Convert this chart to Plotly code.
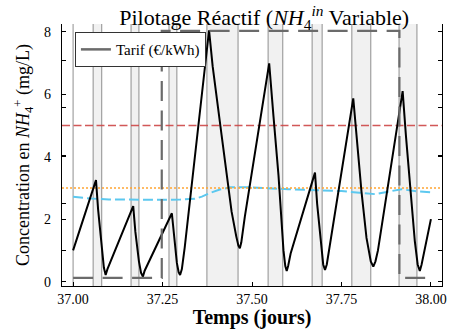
import plotly.graph_objects as go

# ---------------- data ----------------
# NH4+ concentration (black curve)
conc_t = [37.000, 37.064, 37.070, 37.080, 37.086, 37.091, 37.096,
          37.168, 37.174, 37.184, 37.190, 37.195, 37.200,
          37.276, 37.282, 37.290, 37.295, 37.299, 37.304, 37.312,
          37.380, 37.390, 37.415, 37.443, 37.456, 37.462, 37.466, 37.470, 37.480,
          37.548, 37.560, 37.574, 37.588, 37.593, 37.597, 37.601, 37.608,
          37.676, 37.682, 37.692, 37.699, 37.704, 37.709,
          37.783, 37.797, 37.806, 37.820, 37.832, 37.839, 37.845, 37.852,
          37.921, 37.930, 37.941, 37.955, 37.963, 37.969, 37.974, 38.000]
conc_v = [1.00, 3.25, 2.30, 1.10, 0.45, 0.21, 0.40,
          2.42, 1.60, 0.65, 0.28, 0.16, 0.35,
          2.19, 1.50, 0.60, 0.30, 0.21, 0.40, 1.10,
          8.05, 6.90, 4.69, 2.24, 1.45, 1.15, 1.07, 1.25, 2.08,
          6.99, 5.30, 3.41, 1.00, 0.50, 0.34, 0.50, 0.90,
          3.49, 2.50, 1.20, 0.55, 0.37, 0.55,
          5.87, 3.95, 2.88, 1.40, 0.65, 0.48, 0.65, 1.00,
          6.10, 4.70, 3.20, 1.30, 0.55, 0.34, 0.55, 2.00]

# NH4 inlet (cyan dashed)
inlet_t = [37.00, 37.05, 37.10, 37.15, 37.20, 37.25, 37.30, 37.34, 37.36, 37.38,
           37.41, 37.44, 37.49, 37.55, 37.60, 37.65, 37.70, 37.75, 37.80, 37.845,
           37.88, 37.918, 37.96, 38.00]
inlet_v = [2.72, 2.66, 2.63, 2.62, 2.62, 2.62, 2.63, 2.65, 2.72, 2.83,
           2.95, 3.02, 3.02, 2.98, 2.96, 2.94, 2.93, 2.90, 2.85, 2.80,
           2.88, 2.96, 2.89, 2.86]

# Thresholds
limit_high = 5.0
limit_low = 3.0

# Tariff (secondary axis)
tarif_t = [37.000, 37.2478, 37.912, 38.000]
tarif_v = [0.0887, 0.1922, 0.0887, 0.0887]

# Shaded periods (start, end) in days
band_start = [37.056, 37.162, 37.268, 37.374, 37.545, 37.668, 37.779, 37.911]
band_end = [37.080, 37.184, 37.290, 37.461, 37.586, 37.696, 37.832, 37.961]
extra_edges = [37.000]

x_ticks = [37.00, 37.25, 37.50, 37.75, 38.00]
x_tick_text = ["37.00", "37.25", "37.50", "37.75", "38.00"]
y_ticks = [0, 2, 4, 6, 8]
y2_ticks = [0.10, 0.12, 0.14, 0.16, 0.18]

SERIF = '"Liberation Serif", "Times New Roman", serif'

fig = go.Figure()

fig.add_trace(go.Scatter(x=inlet_t, y=inlet_v, mode="lines",
                         line=dict(color="#5cc8ef", width=2, dash="10px,4px"),
                         showlegend=False, hoverinfo="skip"))
fig.add_trace(go.Scatter(x=[inlet_t[0] - 0.031, inlet_t[-1] + 0.031], y=[limit_high, limit_high],
                         mode="lines", line=dict(color="rgba(205,70,70,0.9)", width=1.3, dash="8px,3.5px"),
                         showlegend=False, hoverinfo="skip"))
fig.add_trace(go.Scatter(x=[inlet_t[0] - 0.031, inlet_t[-1] + 0.031], y=[limit_low, limit_low],
                         mode="lines", line=dict(color="#ffa533", width=1.6, dash="2px,2px"),
                         showlegend=False, hoverinfo="skip"))
fig.add_trace(go.Scatter(x=conc_t, y=conc_v, mode="lines",
                         line=dict(color="black", width=2), showlegend=False, hoverinfo="skip"))
fig.add_trace(go.Scatter(x=tarif_t, y=tarif_v, mode="lines", line_shape="hv",
                         line=dict(color="#6b6b6b", width=2.2, dash="20px,9.5px"),
                         yaxis="y2", showlegend=False, hoverinfo="skip"))
# legend entry (solid handle as in reference)
fig.add_trace(go.Scatter(x=[None], y=[None], mode="lines", name="Tarif (€/kWh)",
                         line=dict(color="#6b6b6b", width=2.5), yaxis="y2"))

shapes = []
for s, e in zip(band_start, band_end):
    shapes.append(dict(type="rect", xref="x", yref="paper", x0=s, x1=e, y0=0, y1=1,
                       fillcolor="#f1f1f1", line=dict(width=0), layer="below"))
for xv in band_start + band_end + extra_edges:
    shapes.append(dict(type="line", xref="x", yref="paper", x0=xv, x1=xv, y0=0, y1=1,
                       line=dict(color="#8f8f8f", width=1), layer="below"))

fig.update_layout(
    width=449, height=329,
    margin=dict(l=62, r=7, t=24, b=43, autoexpand=False),
    paper_bgcolor="white", plot_bgcolor="white",
    shapes=shapes,
    title=dict(text="Pilotage Réactif (<i>NH</i><sub>4</sub><sup><i>in</i></sup> Variable)",
               x=0.532, xref="paper", xanchor="center", y=0.947, yanchor="middle",
               font=dict(family=SERIF, size=22, color="black"), automargin=False),
    xaxis=dict(range=[36.969, 38.031], tickvals=x_ticks, ticktext=x_tick_text,
               ticks="inside", ticklen=4, tickcolor="black", showline=True, linecolor="black",
               linewidth=1, showgrid=False, zeroline=False, mirror=False, automargin=False,
               tickfont=dict(family=SERIF, size=14, color="black"),
               title=dict(text="<b>Temps (jours)</b>", font=dict(family=SERIF, size=20, color="black"),
                          standoff=5)),
    yaxis=dict(range=[-0.14, 8.25], tickvals=y_ticks, ticks="inside", ticklen=4,
               tickcolor="black", showline=True, linecolor="black", linewidth=1.2,
               mirror="ticks", showgrid=False, zeroline=False, automargin=False,
               tickfont=dict(family=SERIF, size=14, color="black"), ticklabelstandoff=7,
               title=dict(text="Concentration en <i>NH</i><sub>4</sub><sup>+</sup> (mg/L)",
                          font=dict(family=SERIF, size=18, color="black"), standoff=9)),
    yaxis2=dict(range=[0.0853, 0.1951], tickvals=y2_ticks, overlaying="y", side="right",
                ticks="inside", ticklen=4, tickcolor="black", showline=True, linecolor="black",
                linewidth=1.2, mirror="ticks", showgrid=False, zeroline=False, automargin=False,
                showticklabels=False),
    legend=dict(x=0.034, y=0.969, xanchor="left", yanchor="top", bgcolor="white",
                bordercolor="#333333", borderwidth=1, itemwidth=30,
                font=dict(family=SERIF, size=15, color="black"),
                tracegroupgap=0),
    showlegend=True,
)

fig.write_html("out.html", config={"displayModeBar": False},
               post_script="document.body.style.margin='0';")
